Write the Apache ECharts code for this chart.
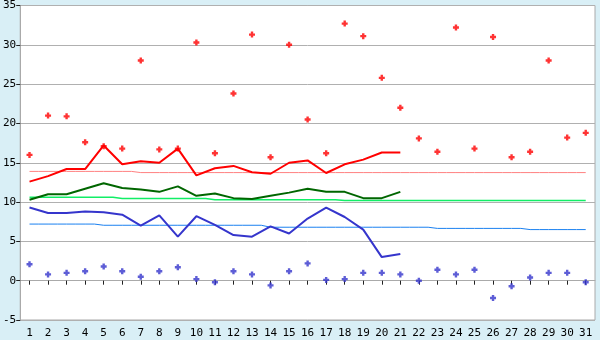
<!DOCTYPE html>
<html>
<head>
<meta charset="utf-8">
<script src="https://cdn.jsdelivr.net/npm/echarts@6/dist/echarts.min.js"></script>
<style>
html,body{margin:0;padding:0;background:#d9eff6;}
#c{width:600px;height:340px;}
</style>
</head>
<body>
<div id="c"></div>
<script>
var days = ['1','2','3','4','5','6','7','8','9','10','11','12','13','14','15','16','17','18','19','20','21','22','23','24','25','26','27','28','29','30','31'];
var maxTemps = [16.0,21.0,20.9,17.6,17.1,16.8,28.0,16.7,16.8,30.3,16.2,23.8,31.3,15.7,30.0,20.5,16.2,32.7,31.1,25.8,22.0,18.1,16.4,32.2,16.8,31.0,15.7,16.4,28.0,18.2,18.8];
var minTemps = [2.1,0.8,1.0,1.2,1.8,1.2,0.5,1.2,1.7,0.2,-0.2,1.2,0.8,-0.6,1.2,2.2,0.1,0.2,1.0,1.0,0.8,0.0,1.4,0.8,1.4,-2.2,-0.7,0.4,1.0,1.0,-0.2];
var avgMax = [12.6,13.3,14.2,14.2,17.2,14.8,15.2,15.0,16.8,13.4,14.3,14.6,13.8,13.6,15.0,15.3,13.7,14.8,15.4,16.3,16.3];
var avgMean = [10.3,11.0,11.0,11.7,12.4,11.8,11.6,11.3,12.0,10.8,11.1,10.5,10.4,10.8,11.2,11.7,11.3,11.3,10.5,10.5,11.3];
var avgMin = [9.3,8.6,8.6,8.8,8.7,8.4,7.0,8.3,5.6,8.2,7.1,5.8,5.6,6.9,6.0,7.9,9.3,8.1,6.5,3.0,3.4];
var normalMax = [13.9,13.9,13.9,13.9,13.9,13.9,13.75,13.75,13.75,13.75,13.75,13.75,13.75,13.75,13.75,13.75,13.75,13.75,13.75,13.75,13.75,13.75,13.75,13.75,13.75,13.75,13.75,13.75,13.75,13.75,13.75];
var normalMean = [10.6,10.6,10.6,10.6,10.6,10.45,10.45,10.45,10.45,10.45,10.3,10.3,10.3,10.3,10.3,10.3,10.3,10.2,10.2,10.2,10.2,10.2,10.2,10.2,10.2,10.2,10.2,10.2,10.2,10.2,10.2];
var normalMin = [7.2,7.2,7.2,7.2,7.05,7.05,7.05,7.05,7.05,7.05,7.05,7.05,7.05,6.8,6.8,6.8,6.8,6.8,6.8,6.8,6.8,6.8,6.65,6.65,6.65,6.65,6.65,6.5,6.5,6.5,6.5];
var yMin = -5, yMax = 35, yStep = 5;

var plus = 'path://M1.8,0H4.2V1.8H6V4.2H4.2V6H1.8V4.2H0V1.8H1.8Z';
function stepLine(data, color, w) {
  return {type:'line', data:data, step:'middle', showSymbol:false, symbol:'none',
    lineStyle:{color:color, width:w}, silent:true, z:2};
}
function mainLine(data, color) {
  return {type:'line', data:data, showSymbol:false, symbol:'none',
    lineStyle:{color:color, width:2}, silent:true, z:3};
}
function dots(data, color) {
  return {type:'scatter', data:data, symbol:plus, symbolSize:6,
    itemStyle:{color:color}, silent:true, z:4};
}
var chart = echarts.init(document.getElementById('c'), null, {renderer:'canvas'});
chart.setOption({
  animation:false,
  backgroundColor:'#d9eff6',
  grid:{left:20, right:5, top:5, bottom:20, show:true, backgroundColor:'#ffffff', borderColor:'#aaaaaa', borderWidth:1},
  xAxis:{type:'category', data:days, boundaryGap:true,
    axisLine:{show:true, lineStyle:{color:'#aaaaaa'}},
    axisTick:{show:true, alignWithLabel:true, length:4, lineStyle:{color:'#222222'}},
    axisLabel:{color:'#000', fontSize:11, fontFamily:'DejaVu Sans Mono', margin:8, interval:0},
    splitLine:{show:false}},
  yAxis:{type:'value', min:yMin, max:yMax, interval:yStep,
    axisLine:{show:true, lineStyle:{color:'#aaaaaa'}},
    axisTick:{show:true, length:4, lineStyle:{color:'#222222'}},
    axisLabel:{color:'#000', fontSize:11, fontFamily:'DejaVu Sans Mono', margin:4},
    splitLine:{show:true, lineStyle:{color:'#b0b0b0', width:1}}},
  series:[
    stepLine(normalMax, '#ff8080', 1),
    stepLine(normalMean, '#11ee66', 1.5),
    stepLine(normalMin, '#1a80f0', 1),
    mainLine(avgMax, '#ff0000'),
    mainLine(avgMean, '#006600'),
    mainLine(avgMin, '#3535cc'),
    dots(maxTemps, '#ff0000'),
    dots(minTemps, '#3535cc')
  ]
});
</script>
</body>
</html>
